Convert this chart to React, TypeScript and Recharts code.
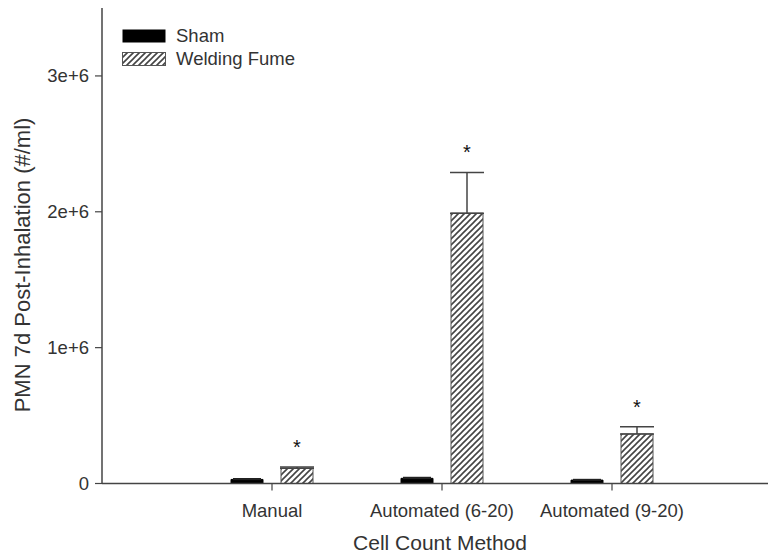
import { BarChart, Bar, XAxis, YAxis, ErrorBar, LabelList, Label } from 'recharts'

const categories = ['Manual', 'Automated (6-20)', 'Automated (9-20)']
const sham = [30000, 38000, 25000]
const shamErr = [5000, 6000, 4000]
const fume = [112000, 1990000, 365000]
const fumeErr = [9000, 300000, 52000]
const yTicks = [0, 1000000, 2000000, 3000000]

const FONT = '"Liberation Sans", Arial, sans-serif'
const INK = '#333'

const data = categories.map((name, i) => ({
  name,
  sham: sham[i],
  shamErr: [0, shamErr[i]],
  fume: fume[i],
  fumeErr: [0, fumeErr[i]],
}))

const fmt = (v: number) => (v === 0 ? '0' : `${v / 1000000}e+6`)

function Hatch({ id }: { id: string }) {
  return (
    <pattern id={id} patternUnits="userSpaceOnUse" width="6" height="6">
      <rect width="6" height="6" fill="#fff" />
      <path d="M0,6 L6,0 M-1.5,1.5 L1.5,-1.5 M4.5,7.5 L7.5,4.5" stroke="#444" strokeWidth="1.6" />
    </pattern>
  )
}

function Star(props: any) {
  const { x, y, width, height, value, index } = props
  const errPx = value ? (fumeErr[index] * height) / value : 0
  const top = y - errPx
  return (
    <text x={x + width / 2} y={top - 13} textAnchor="middle" fontSize={20} fill="#111" fontFamily={FONT}>
      *
    </text>
  )
}

function Legend() {
  return (
    <div style={{ position: 'absolute', left: 122, top: 24, fontFamily: FONT, fontSize: 18.5, color: INK }}>
      <div style={{ display: 'flex', alignItems: 'center', height: 23 }}>
        <svg width={44} height={14} style={{ marginRight: 10 }}>
          <rect x={0.5} y={0.5} width={43} height={13} fill="#000" />
        </svg>
        <span>Sham</span>
      </div>
      <div style={{ display: 'flex', alignItems: 'center', height: 23 }}>
        <svg width={44} height={14} style={{ marginRight: 10 }}>
          <defs>
            <Hatch id="legendHatch" />
          </defs>
          <rect x={0.5} y={0.5} width={43} height={13} fill="url(#legendHatch)" stroke="#555" />
        </svg>
        <span>Welding Fume</span>
      </div>
    </div>
  )
}

export default function App() {
  return (
    <div style={{ position: 'absolute', left: 0, top: 0, width: 768, height: 557, overflow: 'hidden', background: '#fff' }}>
      <BarChart
        width={790}
        height={557}
        data={data}
        margin={{ top: 8, right: 0, bottom: 0, left: 0 }}
        barSize={32}
        barGap={18}
      >
        <defs>
          <Hatch id="fumeHatch" />
        </defs>
        <XAxis
          dataKey="name"
          height={73.5}
          padding={{ left: 85, right: 93 }}
          tickSize={7}
          tickMargin={13}
          axisLine={{ stroke: '#444', strokeWidth: 1.5 }}
          tickLine={{ stroke: '#444', strokeWidth: 1.2 }}
          tick={{ fill: INK, fontSize: 18.5, fontFamily: FONT }}
          interval={0}
        >
          <Label
            content={() => (
              <text x={440} y={550} textAnchor="middle" fontSize={21} fill={INK} fontFamily={FONT}>
                Cell Count Method
              </text>
            )}
          />
        </XAxis>
        <YAxis
          width={102}
          domain={[0, 3500000]}
          ticks={yTicks}
          tickFormatter={fmt}
          tickSize={7}
          tickMargin={6}
          allowDataOverflow
          axisLine={{ stroke: '#444', strokeWidth: 1.5 }}
          tickLine={{ stroke: '#444', strokeWidth: 1.2 }}
          tick={{ fill: INK, fontSize: 18.5, fontFamily: FONT }}
        >
          <Label
            content={() => (
              <text
                x={22}
                y={265}
                transform="rotate(-90, 22, 265)"
                textAnchor="middle"
                dominantBaseline="central"
                fontSize={22}
                fill={INK}
                fontFamily={FONT}
              >
                PMN 7d Post-Inhalation (#/ml)
              </text>
            )}
          />
        </YAxis>
        <Bar dataKey="sham" fill="#000" stroke="#000" isAnimationActive={false}>
          <ErrorBar dataKey="shamErr" direction="y" width={14} stroke="#222" strokeWidth={1.5} />
        </Bar>
        <Bar dataKey="fume" fill="url(#fumeHatch)" stroke="#555" strokeWidth={1} isAnimationActive={false}>
          <ErrorBar dataKey="fumeErr" direction="y" width={17} stroke="#444" strokeWidth={1.5} />
          <LabelList dataKey="fume" content={<Star />} />
        </Bar>
      </BarChart>
      <Legend />
    </div>
  )
}
